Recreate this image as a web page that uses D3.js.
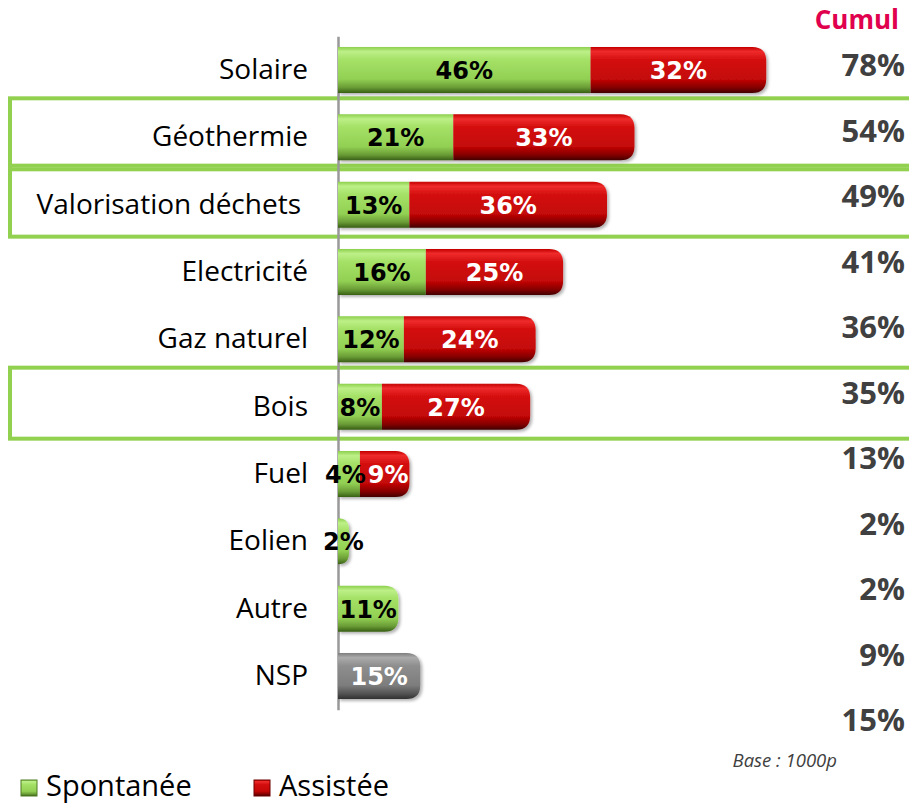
<!DOCTYPE html>
<html>
<head>
<meta charset="utf-8">
<script src="https://cdn.jsdelivr.net/npm/d3@7"></script>
<style>
  body { margin: 0; background: #fff; }
  svg { display: block; }
</style>
</head>
<body>
<div id="chart"></div>
<script>
// data
var categories = ["Solaire", "Géothermie", "Valorisation déchets", "Electricité", "Gaz naturel",
                  "Bois", "Fuel", "Eolien", "Autre", "NSP"];
var spontanee = [46, 21, 13, 16, 12, 8, 4, 2, 11, 0];
var assistee  = [32, 33, 36, 25, 24, 27, 9, 0, 0, 0];
var nsp       = [0, 0, 0, 0, 0, 0, 0, 0, 0, 15];
var cumulLabels = ["78%", "54%", "49%", "41%", "36%", "35%", "13%", "2%", "2%", "9%", "15%"];
var highlighted = ["Géothermie", "Valorisation déchets", "Bois"];

var width = 909, height = 805;

var svg = d3.select("#chart").append("svg")
    .attr("width", width).attr("height", height);

var defs = svg.append("defs");

function addGradient(id, stops) {
    var lg = defs.append("linearGradient").attr("id", id)
        .attr("x1", 0).attr("y1", 0).attr("x2", 0).attr("y2", 1);
    stops.forEach(s => lg.append("stop").attr("offset", s[0]).attr("stop-color", s[1]));
}
addGradient("g-green", [[0, "#8ccf4c"], [0.1, "#bdf088"], [0.28, "#a4e166"], [0.7, "#92d053"], [0.88, "#6a9c36"], [1, "#385f15"]]);
addGradient("g-red", [[0, "#c40000"], [0.1, "#ef2b2b"], [0.28, "#d40e0e"], [0.7, "#c40707"], [0.88, "#850000"], [1, "#420000"]]);
addGradient("g-gray", [[0, "#7e7e7e"], [0.1, "#ababab"], [0.28, "#8e8e8e"], [0.7, "#7d7d7d"], [0.88, "#545454"], [1, "#303030"]]);

defs.append("filter").attr("id", "shadow")
    .attr("x", "-5%").attr("y", "-10%").attr("width", "115%").attr("height", "130%")
  .append("feDropShadow")
    .attr("dx", 2).attr("dy", 2).attr("stdDeviation", 1.5)
    .attr("flood-color", "#000").attr("flood-opacity", 0.3);

var x = d3.scaleLinear().domain([0, 100]).range([338, 338 + 549]);
var y = d3.scaleBand().domain(categories)
    .range([36.3, 709.7]).paddingInner(0.317).paddingOuter(0.1585);
var bh = y.bandwidth();

// highlight boxes
svg.append("g").selectAll("rect")
    .data(highlighted).enter().append("rect")
    .attr("x", 10)
    .attr("y", d => y(d) - 16)
    .attr("width", 940)
    .attr("height", 71)
    .attr("fill", "none")
    .attr("stroke", "#92d050")
    .attr("stroke-width", 4);

// axis with category labels
var axis = svg.append("g")
    .attr("transform", "translate(" + x(0) + ",0)")
    .call(d3.axisLeft(y).tickSize(0).tickPadding(30));
axis.select(".domain").attr("stroke", "#999").attr("stroke-width", 2.5);
axis.selectAll("text")
    .attr("font-family", "'Open Sans', sans-serif")
    .attr("font-size", 28)
    .attr("fill", "#000")
    .attr("dx", d => d == "Valorisation déchets" ? -7 : 0);

function roundedRight(x0, x1, yy, h, r) {
    r = Math.min(r, x1 - x0, h / 2);
    return "M" + x0 + "," + yy + "H" + (x1 - r) +
        "Q" + x1 + "," + yy + " " + x1 + "," + (yy + r) +
        "V" + (yy + h - r) +
        "Q" + x1 + "," + (yy + h) + " " + (x1 - r) + "," + (yy + h) +
        "H" + x0 + "Z";
}

// build segments
var segs = [];
categories.forEach((c, i) => {
    var start = 0;
    [[spontanee[i], "g-green", "#000"], [assistee[i], "g-red", "#fff"], [nsp[i], "g-gray", "#fff"]]
        .forEach((s, k, arr) => {
            if (s[0] <= 0) return;
            var last = arr.slice(k + 1).every(o => o[0] <= 0);
            segs.push({cat: c, from: start, to: start + s[0], v: s[0], fill: s[1], text: s[2], last: last});
            start += s[0];
        });
});

var bars = svg.append("g").attr("filter", "url(#shadow)");
bars.selectAll("path").data(segs).enter().append("path")
    .attr("d", d => d.last
        ? roundedRight(x(d.from), x(d.to), y(d.cat), bh, 14)
        : "M" + x(d.from) + "," + y(d.cat) + "H" + x(d.to) + "V" + (y(d.cat) + bh) + "H" + x(d.from) + "Z")
    .attr("fill", d => "url(#" + d.fill + ")");

var labels = svg.append("g").selectAll("text").data(segs).enter().append("text")
    .attr("x", d => (x(d.from) + x(d.to)) / 2)
    .attr("y", d => y(d.cat) + bh / 2)
    .attr("dy", "0.38em")
    .attr("text-anchor", "middle")
    .attr("font-family", "'DejaVu Sans', Verdana, sans-serif")
    .attr("font-weight", "bold")
    .attr("font-size", 24)
    .attr("fill", d => d.text)
    .text(d => d.v + "%");

// push apart labels that would collide inside one bar
labels.each(function(d) { d.lx = +this.getAttribute("x"); d.w = this.getComputedTextLength(); });
categories.forEach(c => {
    var row = labels.filter(d => d.cat == c).nodes();
    for (var k = 1; k < row.length; k++) {
        var a = d3.select(row[k - 1]).datum(), b = d3.select(row[k]).datum();
        var gap = (b.lx - b.w / 2) - (a.lx + a.w / 2);
        if (gap < 2) {
            var shift = (2 - gap) / 2;
            d3.select(row[k - 1]).attr("x", a.lx - shift);
            d3.select(row[k]).attr("x", b.lx + shift);
        }
    }
});

// cumul column
svg.append("text")
    .attr("x", 899).attr("y", 29)
    .attr("text-anchor", "end")
    .attr("font-family", "'Open Sans', sans-serif")
    .attr("font-weight", "bold")
    .attr("font-size", 26)
    .attr("fill", "#e0004d")
    .text("Cumul");

var yc = d3.scalePoint().domain(d3.range(cumulLabels.length)).range([65, 720]);
svg.append("g").selectAll("text").data(cumulLabels).enter().append("text")
    .attr("x", 905)
    .attr("y", (d, i) => yc(i))
    .attr("dy", "0.36em")
    .attr("text-anchor", "end")
    .attr("font-family", "'Open Sans', sans-serif")
    .attr("font-weight", "bold")
    .attr("font-size", 31)
    .attr("fill", "#404040")
    .text(d => d);

// base note
svg.append("text")
    .attr("x", 837).attr("y", 767)
    .attr("text-anchor", "end")
    .attr("font-family", "'Open Sans', sans-serif")
    .attr("font-style", "italic")
    .attr("font-size", 18.5)
    .attr("fill", "#404040")
    .text("Base : 1000p");

// legend
var legendItems = [["Spontanée", "g-green", "#4f7d24", 21], ["Assistée", "g-red", "#6e0000", 254]];
var lg = svg.append("g").selectAll("g").data(legendItems).enter().append("g")
    .attr("transform", d => "translate(" + d[3] + ",780)");
lg.append("rect")
    .attr("width", 16).attr("height", 16)
    .attr("fill", d => "url(#" + d[1] + ")")
    .attr("stroke", d => d[2]).attr("stroke-width", 1);
lg.append("text")
    .attr("x", 25).attr("y", 16)
    .attr("font-family", "'Open Sans', sans-serif")
    .attr("font-size", 29)
    .attr("fill", "#000")
    .text(d => d[0]);
</script>
</body>
</html>
